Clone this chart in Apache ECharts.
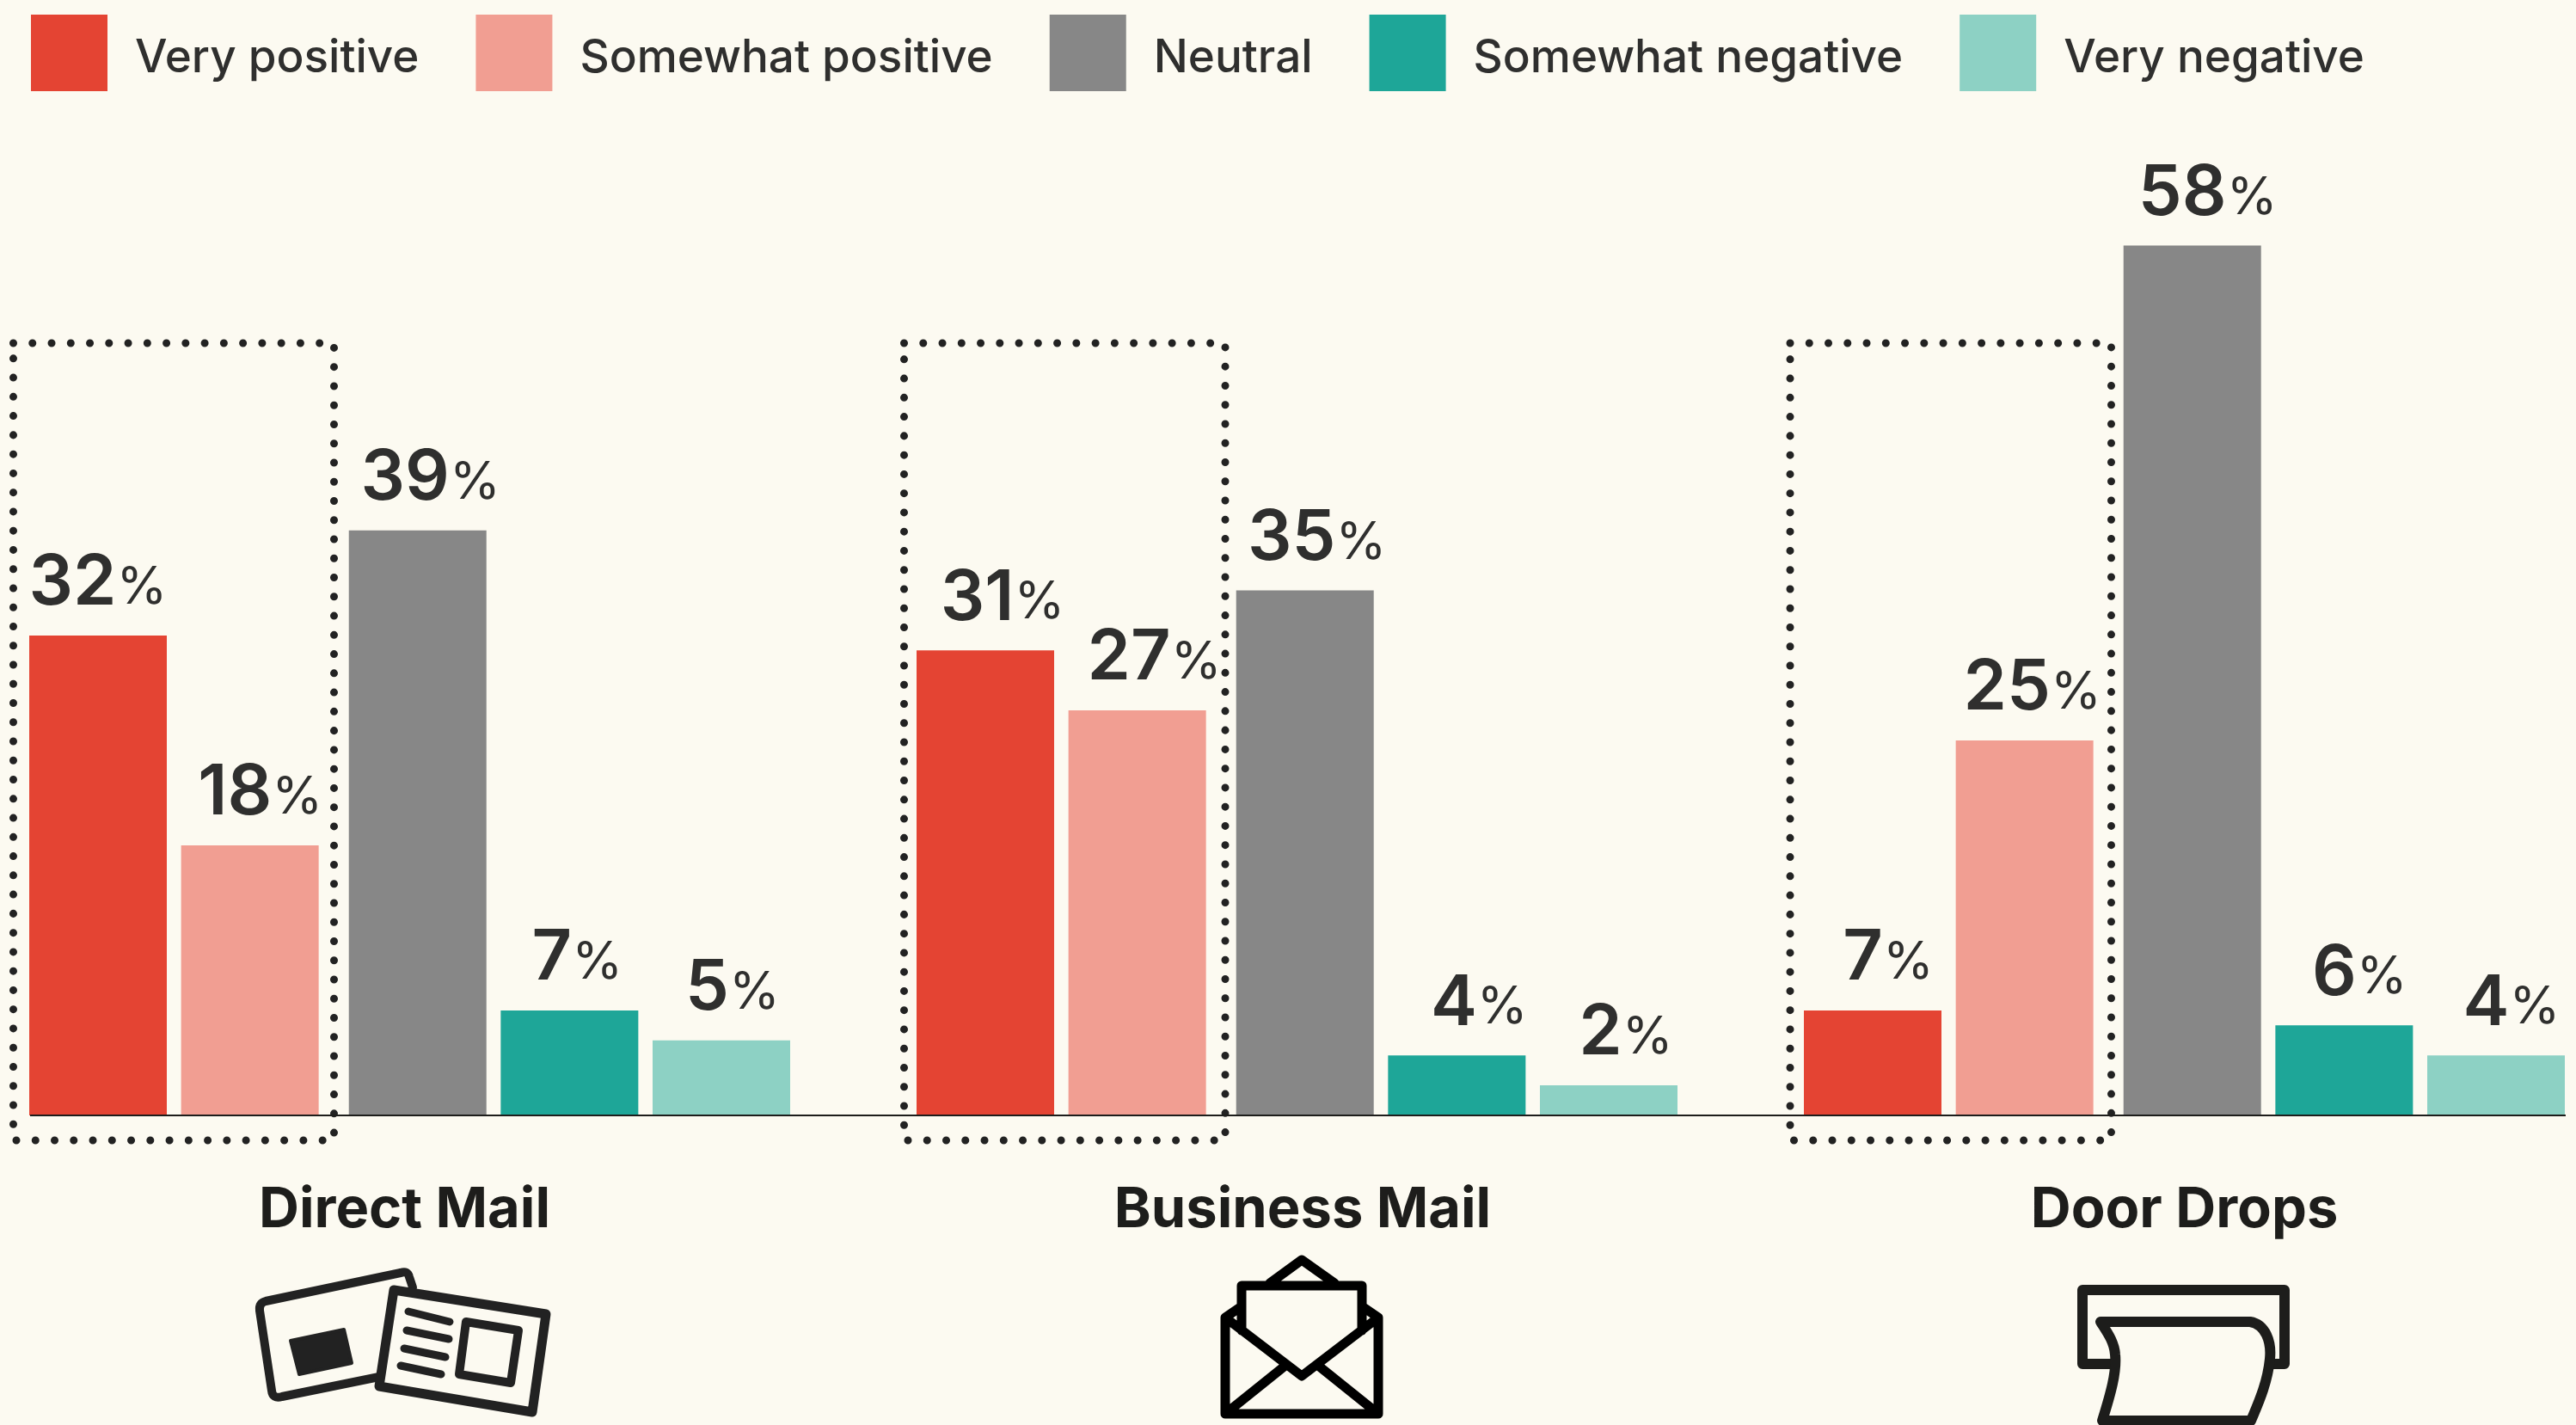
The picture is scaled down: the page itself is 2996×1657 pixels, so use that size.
<!DOCTYPE html>
<html>
<head>
<meta charset="utf-8">
<title>Response to mail by type</title>
<script src="https://cdn.jsdelivr.net/npm/echarts@6/dist/echarts.min.js"></script>
<style>
  html, body { margin: 0; padding: 0; background: #fcfaf1; }
  #chart { width: 2996px; height: 1657px; }
</style>
</head>
<body>
<div id="chart"></div>
<script>
const categories = ['Direct Mail', 'Business Mail', 'Door Drops']
const veryPositive = [32, 31, 7]
const somewhatPositive = [18, 27, 25]
const neutral = [39, 35, 58]
const somewhatNegative = [7, 4, 6]
const veryNegative = [5, 2, 4]

const INK = '#1d1d1b'
const TEXT = '#2f2f2e'
const PAPER = '#fcfaf1'
const FONT = 'Inter'
const BASELINE_Y = 1297

// value labels sit a little right of their bars in the original
function barSeries(name, values, color, labelShift) {
  return {
    name,
    type: 'bar',
    data: values.map((value, i) => ({ value, label: { offset: [labelShift[i], 0] } })),
    barWidth: 160,
    barGap: '10.4%',
    itemStyle: { color },
    label: {
      show: true,
      position: 'top',
      distance: 15,
      formatter: (p) => `{n|${p.value}}{p|%}`,
      rich: {
        n: { fontFamily: FONT, fontSize: 81, fontWeight: 600, color: TEXT, lineHeight: 90 },
        p: { fontFamily: FONT, fontSize: 60, fontWeight: 400, color: TEXT, lineHeight: 90, verticalAlign: 'bottom', padding: [0, 0, 10, 0] },
      },
    },
  }
}

// dotted box round the two positive bars of each group
function dottedBox(x, width) {
  return {
    type: 'rect',
    silent: true,
    z: 1,
    shape: { x, y: 399, width, height: 927 },
    style: { fill: 'none', stroke: '#222', lineWidth: 9, lineDash: [0.01, 22.25], lineCap: 'round' },
  }
}

// the graphic component has no plain path type, so each icon part is registered as a shape
let shapeCount = 0
function icon(pathData, style) {
  const name = 'iconPart' + shapeCount++
  echarts.graphic.registerShape(name, echarts.graphic.extendPath(pathData, {}))
  return { type: name, silent: true, z: 5, style: { lineJoin: 'round', lineCap: 'round', ...style } }
}

const iconParts = [
  // direct mail: back card, stamp, front card, text lines, picture box
  icon('M480,1497 L476,1485 Q474,1477 466,1480 L309,1513 Q301,1515 302,1524 L316,1617 Q317,1627 328,1624 L441,1601', { fill: 'none', stroke: '#222', lineWidth: 10 }),
  icon('M338,1559 L400,1546 L409,1585 L348,1598 Z', { fill: '#222', stroke: '#222', lineWidth: 4 }),
  icon('M458,1500 L635,1528 L619,1642 L441,1612 Z', { fill: PAPER, stroke: '#222', lineWidth: 11 }),
  icon('M475,1525 L523,1537 M473,1547 L522,1557 M470,1568 L518,1578 M466,1588 L513,1598', { fill: 'none', stroke: '#222', lineWidth: 9 }),
  icon('M542,1537 L603,1547 L594,1608 L534,1598 Z', { fill: 'none', stroke: '#222', lineWidth: 10 }),
  // business mail: open envelope with letter
  icon('M1425,1532 L1425,1644 L1603,1644 L1603,1532 L1514,1600 Z M1425,1644 L1496,1587 M1603,1644 L1532,1587 M1444,1547 L1444,1495 L1584,1495 L1584,1547 M1477,1492 L1514,1465 L1552,1492 M1425,1532 L1444,1519 M1603,1532 L1584,1519', { fill: 'none', stroke: '#000', lineWidth: 11 }),
  // door drops: letterbox with paper
  icon('M2457,1586 L2422,1586 L2422,1500 L2657,1500 L2657,1586 L2643,1586', { fill: 'none', stroke: INK, lineWidth: 12 }),
  icon('M2443,1537 L2617,1537 C2635,1540 2642,1560 2640,1580 C2637,1610 2625,1635 2618,1652 L2445,1652 C2455,1620 2462,1595 2460,1575 C2459,1560 2450,1548 2443,1537 Z', { fill: 'none', stroke: INK, lineWidth: 12 }),
]

const chart = echarts.init(document.getElementById('chart'))

chart.setOption({
  backgroundColor: PAPER,
  animation: false,
  textStyle: { fontFamily: FONT },
  grid: { left: -39.5, top: 250.6, width: 3096, height: BASELINE_Y - 250.6, outerBoundsMode: 'none' },
  legend: {
    left: 36,
    top: 17,
    padding: 0,
    itemWidth: 89,
    itemHeight: 89,
    itemGap: 66,
    icon: 'rect',
    selectedMode: false,
    data: ['Very positive', 'Somewhat positive', 'Neutral', 'Somewhat negative', 'Very negative'],
    formatter: (name) => `{t|${name}}`,
    textStyle: {
      rich: {
        t: { fontFamily: FONT, fontSize: 53, fontWeight: 500, color: TEXT, lineHeight: 89, padding: [14, 0, 0, 27] },
      },
    },
  },
  xAxis: {
    type: 'category',
    data: [
      { value: categories[0], textStyle: { padding: [0, 12, 0, 0] } },
      { value: categories[1], textStyle: { padding: [0, 0, 0, 13] } },
      categories[2],
    ],
    axisLine: { show: false },
    axisTick: { show: false },
    axisLabel: { margin: 78, fontFamily: FONT, fontSize: 65, fontWeight: 700, color: INK },
  },
  yAxis: { type: 'value', min: 0, max: 60, show: false },
  series: [
    barSeries('Very positive', veryPositive, '#e44433', [0, 20, 18]),
    barSeries('Somewhat positive', somewhatPositive, '#f19e92', [12, 20, 9]),
    // empty slot: widens the gap before the neutral bar
    { name: 'spacer', type: 'bar', data: [], barWidth: 16.7, barGap: '10.4%' },
    barSeries('Neutral', neutral, '#878787', [15, 14, 18]),
    barSeries('Somewhat negative', somewhatNegative, '#1ea698', [9, 26, 18]),
    barSeries('Very negative', veryNegative, '#8dd1c4', [13, 20, 18]),
  ],
  graphic: [
    dottedBox(15.5, 373),
    dottedBox(1051.5, 373.5),
    dottedBox(2082, 373.5),
    {
      type: 'line',
      silent: true,
      z: 4,
      shape: { x1: 35, y1: BASELINE_Y, x2: 2984, y2: BASELINE_Y },
      style: { stroke: INK, lineWidth: 2 },
    },
    ...iconParts,
  ],
})
</script>
</body>
</html>
